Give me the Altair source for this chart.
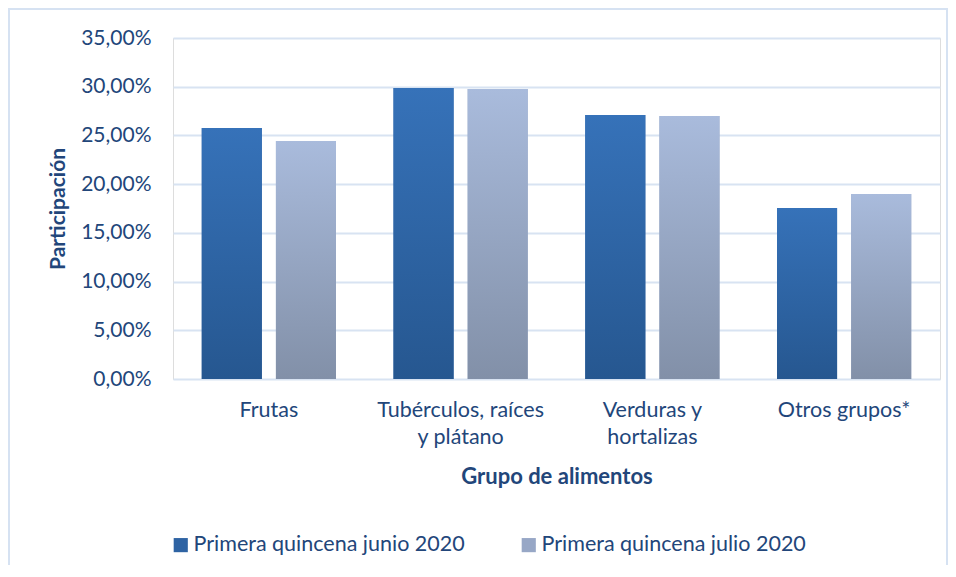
import altair as alt
import pandas as pd

categories = ["Frutas", "Tubérculos, raíces|y plátano", "Verduras y|hortalizas", "Otros grupos*"]
series = ["Primera quincena junio 2020", "Primera quincena julio 2020"]
junio = [0.2577, 0.2988, 0.2710, 0.1756]
julio = [0.2443, 0.2977, 0.2700, 0.1900]

rows = []
for c, a, b in zip(categories, junio, julio):
    rows.append({"grupo": c, "serie": series[0], "valor": a})
    rows.append({"grupo": c, "serie": series[1], "valor": b})
df = pd.DataFrame(rows)

TXT = "#22467a"
FONT = "Lato"
GRID = "#d8e3f2"

x_enc = alt.X("grupo:N", sort=categories,
              scale=alt.Scale(paddingInner=0.3, paddingOuter=0.15),
              axis=alt.Axis(title="Grupo de alimentos", labelAngle=0,
                            labelExpr="split(datum.label, '|')",
                            labelFontSize=21.5, labelColor=TXT, labelFont=FONT,
                            labelPadding=20, labelLineHeight=27,
                            titleFontSize=22, titleColor=TXT, titleFont=FONT,
                            titleFontWeight="bold", titlePadding=19,
                            domain=False, ticks=False, grid=False))
xo_enc = alt.XOffset("serie:N", sort=series,
                     scale=alt.Scale(domain=series, paddingInner=0.19, paddingOuter=0))
y_enc = alt.Y("valor:Q",
              scale=alt.Scale(domain=[0, 0.35]),
              axis=alt.Axis(title="Participación", values=[0, 0.05, 0.10, 0.15, 0.20, 0.25, 0.30, 0.35],
                            labelExpr="replace(format(datum.value*100, '.2f'), '.', ',') + '%'",
                            labelFontSize=21, labelColor=TXT, labelFont=FONT, labelPadding=22,
                            titleFontSize=21, titleColor=TXT, titleFont=FONT,
                            titleFontWeight="bold", titlePadding=12,
                            domain=False, ticks=False, gridColor=GRID, gridWidth=2))

base = alt.Chart(df).mark_bar().encode(
    x=x_enc, xOffset=xo_enc, y=y_enc,
    color=alt.Color("serie:N", sort=series,
                    scale=alt.Scale(domain=series, range=["#2e63a3", "#97a7c6"]),
                    legend=alt.Legend(title=None, orient="none", direction="horizontal",
                                      legendX=-3, legendY=496,
                                      symbolType="square", symbolSize=200,
                                      symbolStrokeWidth=0,
                                      labelFontSize=21.5, labelColor=TXT, labelFont=FONT,
                                      labelLimit=400, labelOffset=2,
                                      columnPadding=53, symbolOffset=0))
)

def grad(top, bottom):
    return alt.Gradient(gradient="linear",
                        stops=[alt.GradientStop(color=top, offset=0),
                               alt.GradientStop(color=bottom, offset=1)],
                        x1=0, x2=0, y1=0, y2=1)

g1 = alt.Chart(df).transform_filter(alt.datum.serie == series[0]).mark_bar(
    color=grad("#3672b9", "#265790")).encode(x=x_enc, xOffset=xo_enc, y=y_enc)
g2 = alt.Chart(df).transform_filter(alt.datum.serie == series[1]).mark_bar(
    color=grad("#a9bbdc", "#8290a8")).encode(x=x_enc, xOffset=xo_enc, y=y_enc)

border = alt.Chart(alt.Data(values=[{}])).mark_rect(
    fill=None, stroke="#d6e2f2", strokeWidth=2).encode(
    x=alt.value(-164), x2=alt.value(774), y=alt.value(-29), y2=alt.value(620))

chart = alt.layer(border, base, g1, g2).properties(
    width=767, height=341,
    autosize=alt.AutoSizeParams(type="none"),
    padding={"left": 165, "top": 30, "right": 8, "bottom": 186},
).configure_view(stroke=None).configure(font=FONT)

chart.save("out.html", embed_options={"renderer": "svg", "actions": False})
